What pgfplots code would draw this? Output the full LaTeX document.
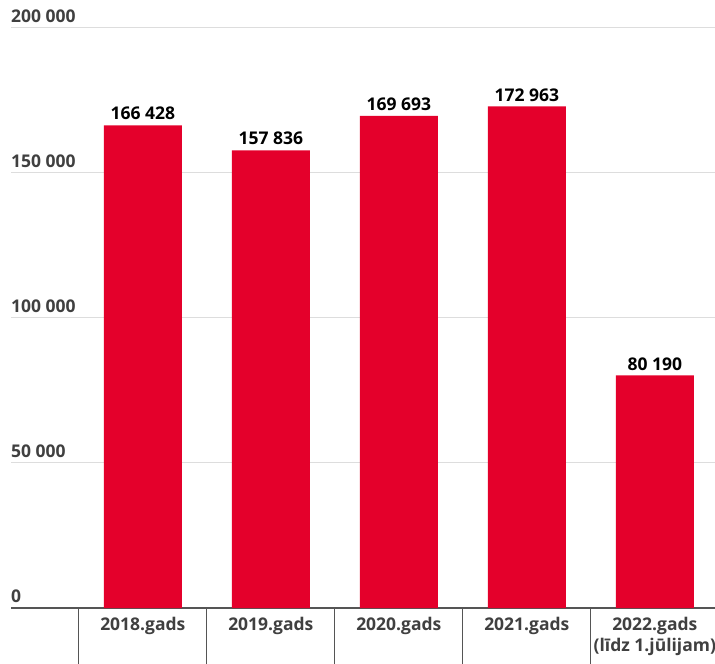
\documentclass[border=0pt]{standalone}
\usepackage{fontspec}
\setmainfont{Open Sans}
\usepackage{pgfplots}
\pgfplotsset{compat=1.18}
\definecolor{barred}{RGB}{228,0,43}
\definecolor{txt}{RGB}{64,64,64}
\definecolor{gridc}{RGB}{221,221,221}
\definecolor{axisc}{RGB}{85,85,85}
\begin{document}
\begin{tikzpicture}
\path[use as bounding box] (-11pt,-56pt) rectangle (704pt,608pt);
\begin{axis}[
  name=ax, at={(0pt,0pt)}, anchor=south west,
  scale only axis, width=704pt, height=580pt,
  xmin=-1.03, xmax=4.47, ymin=0, ymax=200000,
  scaled y ticks=false,
  axis x line*=bottom, axis y line*=left,
  x axis line style={-, axisc, line width=1.5pt},
  y axis line style={draw=none},
  ytick={0,50000,100000,150000,200000},
  yticklabels={0,50 000,100 000,150 000,200 000},
  yticklabel style={anchor=south west, inner sep=0pt, xshift=0pt, yshift=5pt, font=\bfseries\fontsize{17.5}{20}\selectfont, text=txt},
  ytick style={draw=none},
  ymajorgrids, grid style={gridc, line width=1pt},
  xtick={0,1,2,3,4},
  xticklabels={2018.gads,2019.gads,2020.gads,2021.gads,{2022.gads\\[1pt](līdz 1.jūlijam)}},
  xticklabel style={align=center, anchor=north, inner sep=0pt, yshift=-9pt, font=\bfseries\fontsize{17.5}{20}\selectfont, text=txt},
  minor xtick={-0.5,0.5,1.5,2.5,3.5},
  major tick length=0pt, minor tick length=56pt, tick align=outside,
  major x tick style={draw=none},
  minor x tick style={axisc, line width=1pt},
  point meta=explicit symbolic,
  nodes near coords,
  nodes near coords style={anchor=south, inner sep=0pt, yshift=5pt, font=\bfseries\fontsize{17.5}{20}\selectfont, text=black},
]
\addplot[ybar, bar width=78pt, fill=barred, draw=none] coordinates {
  (0,166428) [166 428]
  (1,157836) [157 836]
  (2,169693) [169 693]
  (3,172963) [172 963]
  (4,80190) [80 190]
};
\end{axis}
\end{tikzpicture}
\end{document}
